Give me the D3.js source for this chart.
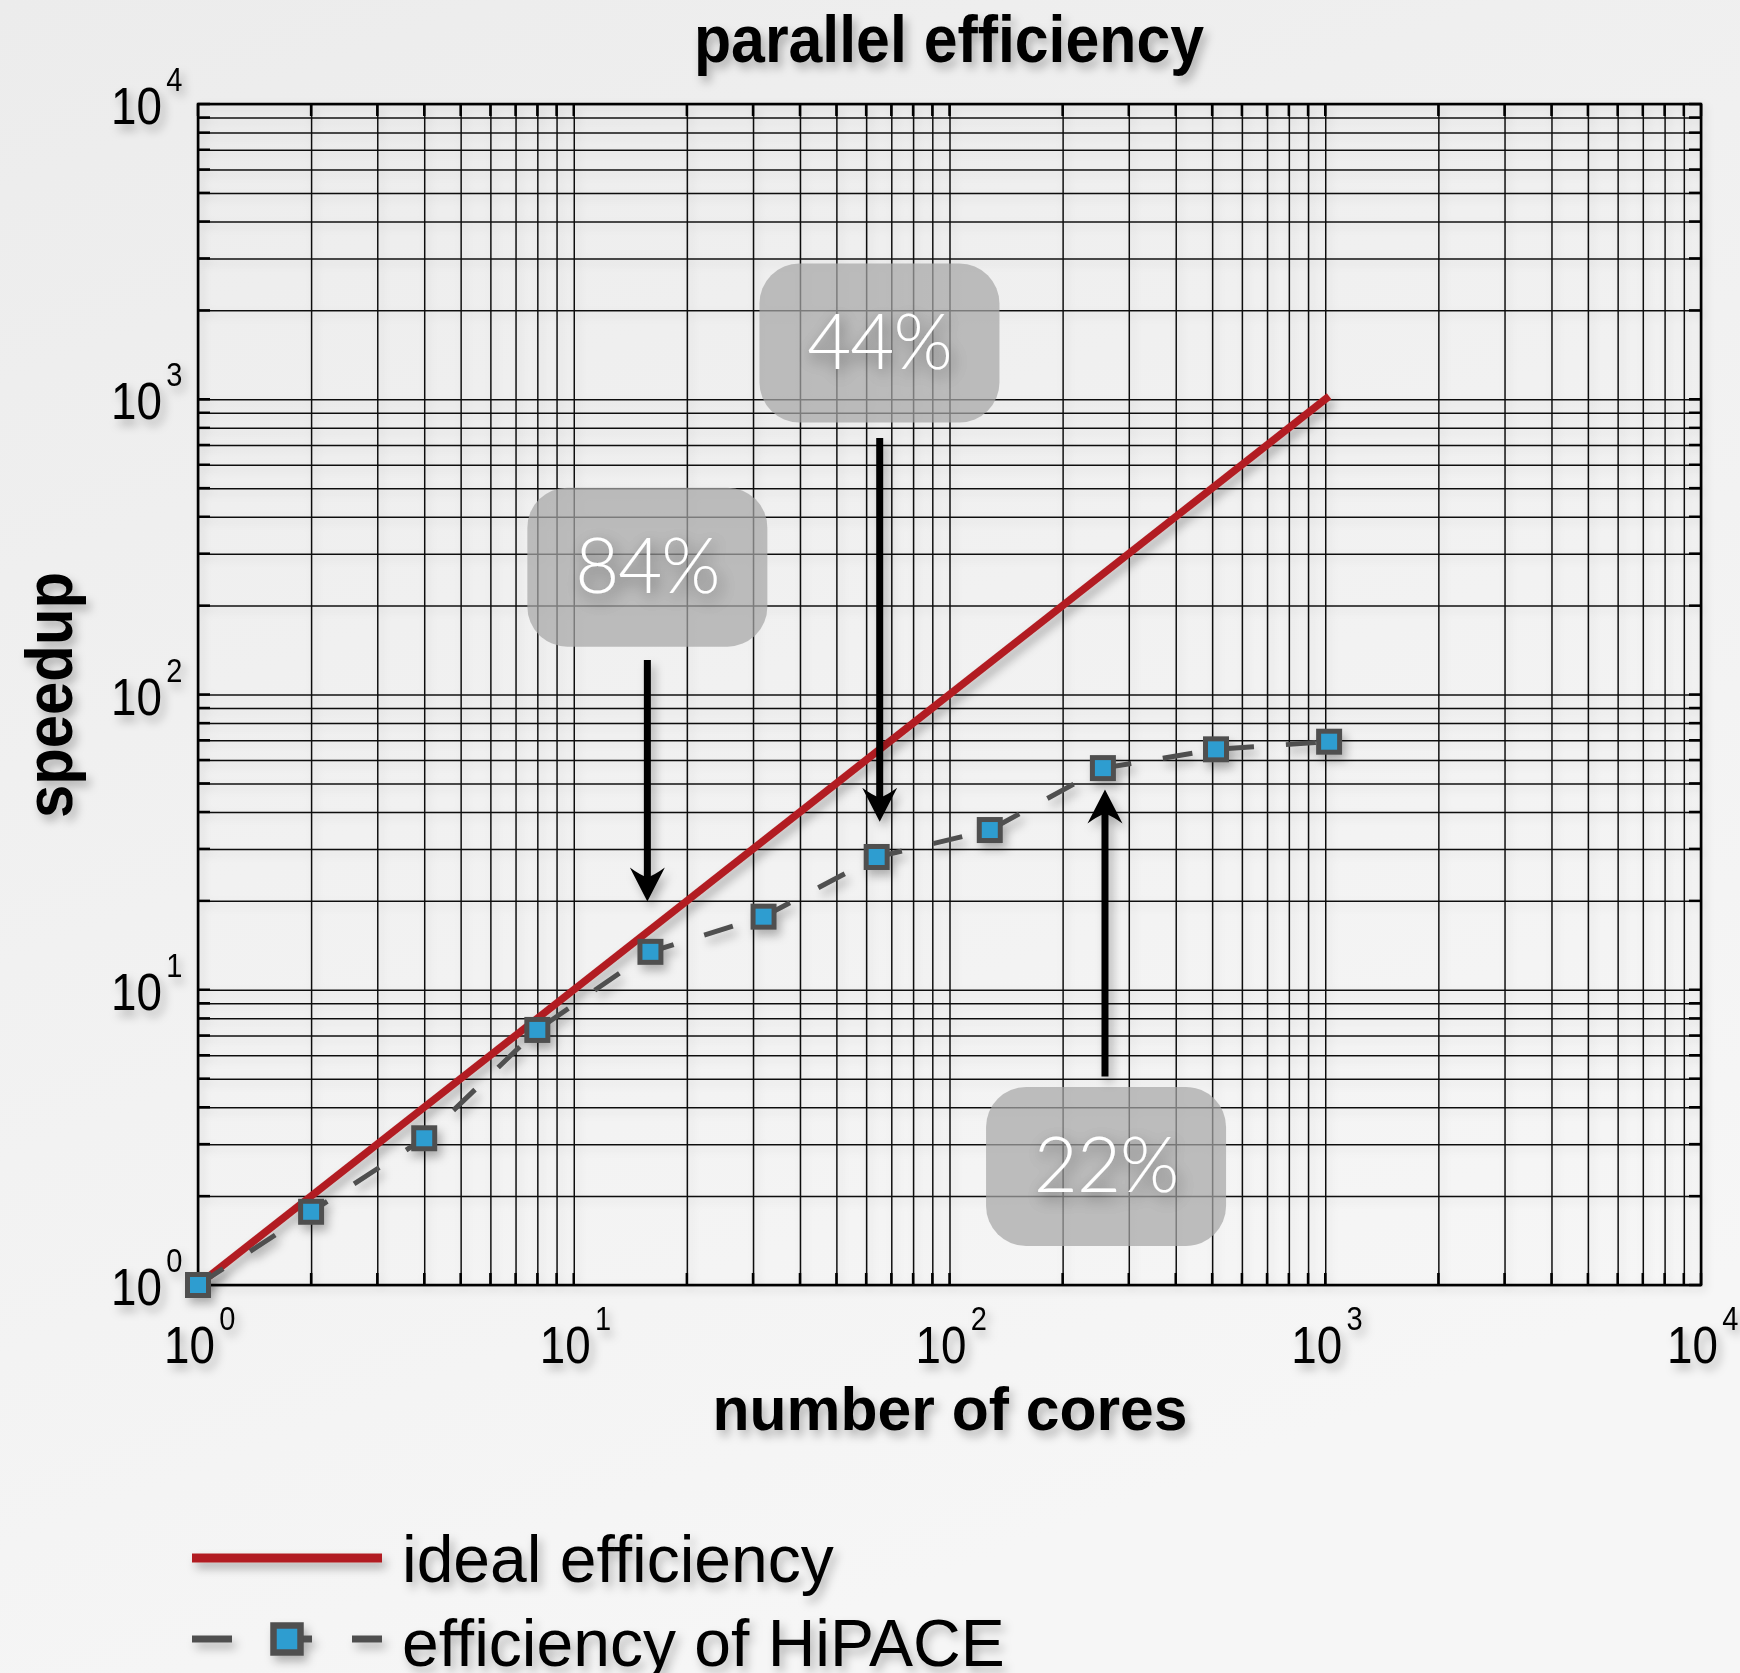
<!DOCTYPE html>
<html>
<head>
<meta charset="utf-8">
<script src="https://cdn.jsdelivr.net/npm/d3@7"></script>
<style>
  html, body { margin: 0; padding: 0; background: #f1f1f1; }
  svg { display: block; }
</style>
</head>
<body>
<svg id="chart" width="1740" height="1673"></svg>
<script>
// ---- data ----
const decades = [0, 1, 2, 3, 4];
const cores = [1, 2, 4, 8, 16, 32, 64, 128, 256, 512, 1024];
const speedup = [1, 1.77, 3.14, 7.31, 13.44, 17.68, 28.16, 34.75, 56.32, 65.2, 69.2];
const idealCores = [1, 1024];
const idealSpeedup = [1, 1024];

// efficiency call-outs: label, box centre (data units), arrow (data units)
const noteLabels = ["84%", "44%", "22%"];
const noteBoxCores = [15.7, 65.1, 261];
const noteBoxSpeedup = [270, 1550, 2.52];
const arrowCores = [15.7, 65.2, 259.3];
const arrowTail = [131, 739, 5.08];
const arrowTip = [19.9, 37.1, 47.7];

const legendLabels = ["ideal efficiency", "efficiency of HiPACE"];

// ---- layout ----
const W = 1740, H = 1673;
const pLeft = 198, pRight = 1701, pTop = 104, pBottom = 1285;
const RED = "#b21f24", DARK = "#4f4f4f", BLUE = "#2f9dd0";

const svg = d3.select("#chart");
const defs = svg.append("defs");

const bg = defs.append("linearGradient").attr("id", "bg")
  .attr("x1", "0").attr("y1", "0").attr("x2", "0.4").attr("y2", "1");
bg.append("stop").attr("offset", "0").attr("stop-color", "#ececec");
bg.append("stop").attr("offset", "1").attr("stop-color", "#f6f6f6");

function shadow(id, dx, dy, sd, op) {
  const f = defs.append("filter").attr("id", id)
    .attr("x", "-30%").attr("y", "-30%").attr("width", "160%").attr("height", "160%");
  f.append("feDropShadow").attr("dx", dx).attr("dy", dy).attr("stdDeviation", sd)
    .attr("flood-color", "#000").attr("flood-opacity", op);
}
shadow("sh", 4, 6, 5, 0.28);
shadow("shGrid", 3, 4, 4, 0.12);
shadow("shText", 3, 6, 8, 0.5);

svg.append("rect").attr("width", W).attr("height", H).attr("fill", "url(#bg)");

const x = d3.scaleLog().domain([1, 1e4]).range([pLeft, pRight]);
const y = d3.scaleLog().domain([1, 1e4]).range([pBottom, pTop]);

// grid values: 1..9 x 10^k
const gridVals = [];
decades.slice(0, -1).forEach(d => { for (let m = 1; m <= 9; m++) gridVals.push(m * Math.pow(10, d)); });
gridVals.push(1e4);

const grid = svg.append("g").attr("filter", "url(#shGrid)");
grid.append("g").attr("transform", `translate(0,${pBottom})`)
  .call(d3.axisBottom(x).tickValues(gridVals).tickSize(-(pBottom - pTop)).tickFormat(""))
  .call(g => g.select(".domain").remove())
  .call(g => g.selectAll("line").attr("stroke", "#111").attr("stroke-width", 1.5));
grid.append("g").attr("transform", `translate(${pLeft},0)`)
  .call(d3.axisLeft(y).tickValues(gridVals).tickSize(-(pRight - pLeft)).tickFormat(""))
  .call(g => g.select(".domain").remove())
  .call(g => g.selectAll("line").attr("stroke", "#111").attr("stroke-width", 1.5));

// inner tick marks on all four sides
const tk = 12;
const ticksG = grid.append("g").attr("stroke", "#000").attr("stroke-width", 2.5);
gridVals.forEach(v => {
  ticksG.append("line").attr("x1", x(v)).attr("x2", x(v)).attr("y1", pBottom).attr("y2", pBottom - tk);
  ticksG.append("line").attr("x1", x(v)).attr("x2", x(v)).attr("y1", pTop).attr("y2", pTop + tk);
  ticksG.append("line").attr("y1", y(v)).attr("y2", y(v)).attr("x1", pLeft).attr("x2", pLeft + tk);
  ticksG.append("line").attr("y1", y(v)).attr("y2", y(v)).attr("x1", pRight).attr("x2", pRight - tk);
});
grid.append("rect").attr("x", pLeft).attr("y", pTop).attr("width", pRight - pLeft).attr("height", pBottom - pTop)
  .attr("fill", "none").attr("stroke", "#000").attr("stroke-width", 2.5);

// ---- tick labels: "10" with the exponent raised ----
const tickFont = "'Liberation Sans', Arial, Helvetica, sans-serif";
const labels = svg.append("g").attr("filter", "url(#sh)").attr("fill", "#000")
  .style("font-family", tickFont);
function powLabel(x0, baseline, d) {
  const t = labels.append("g").attr("transform", `translate(${x0},${baseline}) scale(0.88,1)`)
    .append("text").attr("x", 0).attr("y", 0);
  t.append("tspan").attr("font-size", 52).text("10");
  t.append("tspan").attr("font-size", 33).attr("dx", 5).attr("dy", -33).text(d);
}
decades.forEach(d => {
  const v = Math.pow(10, d);
  powLabel(x(v) - 34, 1363, d);   // x axis
  powLabel(111, y(v) + 20, d);    // y axis
});

// ---- titles ----
const titles = svg.append("g").attr("filter", "url(#sh)").attr("fill", "#000")
  .style("font-family", tickFont).attr("font-weight", "bold");
titles.append("text").attr("x", 949).attr("y", 62).attr("text-anchor", "middle")
  .attr("font-size", 66).attr("textLength", 510).attr("lengthAdjust", "spacingAndGlyphs")
  .text("parallel efficiency");
titles.append("text").attr("x", 950).attr("y", 1430).attr("text-anchor", "middle")
  .attr("font-size", 62).attr("textLength", 475).attr("lengthAdjust", "spacingAndGlyphs")
  .text("number of cores");
titles.append("text").attr("transform", "translate(72,695) rotate(-90)").attr("text-anchor", "middle")
  .attr("font-size", 66).attr("textLength", 246).attr("lengthAdjust", "spacingAndGlyphs")
  .text("speedup");

// ---- series ----
const line = d3.line().x(d => x(d[0])).y(d => y(d[1]));

svg.append("path")
  .datum(idealCores.map((c, i) => [c, idealSpeedup[i]]))
  .attr("d", line).attr("fill", "none").attr("stroke", RED).attr("stroke-width", 7.5)
  .attr("filter", "url(#sh)");

const hip = cores.map((c, i) => [c, speedup[i]]);
const hipG = svg.append("g").attr("filter", "url(#sh)");
hipG.append("path").datum(hip).attr("d", line).attr("fill", "none")
  .attr("stroke", DARK).attr("stroke-width", 5).attr("stroke-dasharray", "30,32");
const ms = 21;
hipG.selectAll("rect.m").data(hip).join("rect").attr("class", "m")
  .attr("x", d => x(d[0]) - ms / 2).attr("y", d => y(d[1]) - ms / 2)
  .attr("width", ms).attr("height", ms)
  .attr("fill", BLUE).attr("stroke", DARK).attr("stroke-width", 5);

// ---- call-outs ----
const bw = 240, bh = 159;
noteLabels.forEach((lab, i) => {
  const cx = x(noteBoxCores[i]), cy = y(noteBoxSpeedup[i]);
  svg.append("rect").attr("x", cx - bw / 2).attr("y", cy - bh / 2)
    .attr("width", bw).attr("height", bh).attr("rx", 40).attr("ry", 40)
    .attr("fill", "#a6a6a6").attr("fill-opacity", 0.72);
  svg.append("text").attr("x", cx).attr("y", cy + 26).attr("text-anchor", "middle")
    .attr("fill", "#fff").attr("font-size", 76).attr("font-weight", 300)
    .style("font-family", "Lato, 'Open Sans', sans-serif")
    .attr("letter-spacing", -1)
    .attr("filter", "url(#shText)").text(lab);
});

const arrows = svg.append("g").attr("filter", "url(#sh)");
noteLabels.forEach((lab, i) => {
  const ax = x(arrowCores[i]);
  const yt = y(arrowTail[i]), yh = y(arrowTip[i]);
  const dir = yh > yt ? 1 : -1;
  arrows.append("line").attr("x1", ax).attr("x2", ax)
    .attr("y1", yt).attr("y2", yh - dir * 22)
    .attr("stroke", "#000").attr("stroke-width", 7);
  arrows.append("path")
    .attr("d", "M0,0 L-17.5,-34 Q-8,-27 0,-24 Q8,-27 17.5,-34 Z")
    .attr("transform", `translate(${ax},${yh}) rotate(${dir > 0 ? 0 : 180})`)
    .attr("fill", "#000");
});

// ---- legend ----
const lg = svg.append("g").attr("filter", "url(#sh)");
lg.append("line").attr("x1", 192).attr("x2", 382).attr("y1", 1558).attr("y2", 1558)
  .attr("stroke", RED).attr("stroke-width", 9);
lg.append("line").attr("x1", 192).attr("x2", 382).attr("y1", 1639).attr("y2", 1639)
  .attr("stroke", DARK).attr("stroke-width", 7).attr("stroke-dasharray", "40,40");
lg.append("rect").attr("x", 287 - 13.5).attr("y", 1639 - 13.5).attr("width", 27).attr("height", 27)
  .attr("fill", BLUE).attr("stroke", DARK).attr("stroke-width", 6.5);
lg.selectAll("text.lt").data(legendLabels).join("text").attr("class", "lt")
  .attr("x", 402).attr("y", (d, i) => 1582 + i * 84)
  .attr("font-size", 66).style("font-family", tickFont).attr("fill", "#000")
  .text(d => d);
</script>
</body>
</html>
